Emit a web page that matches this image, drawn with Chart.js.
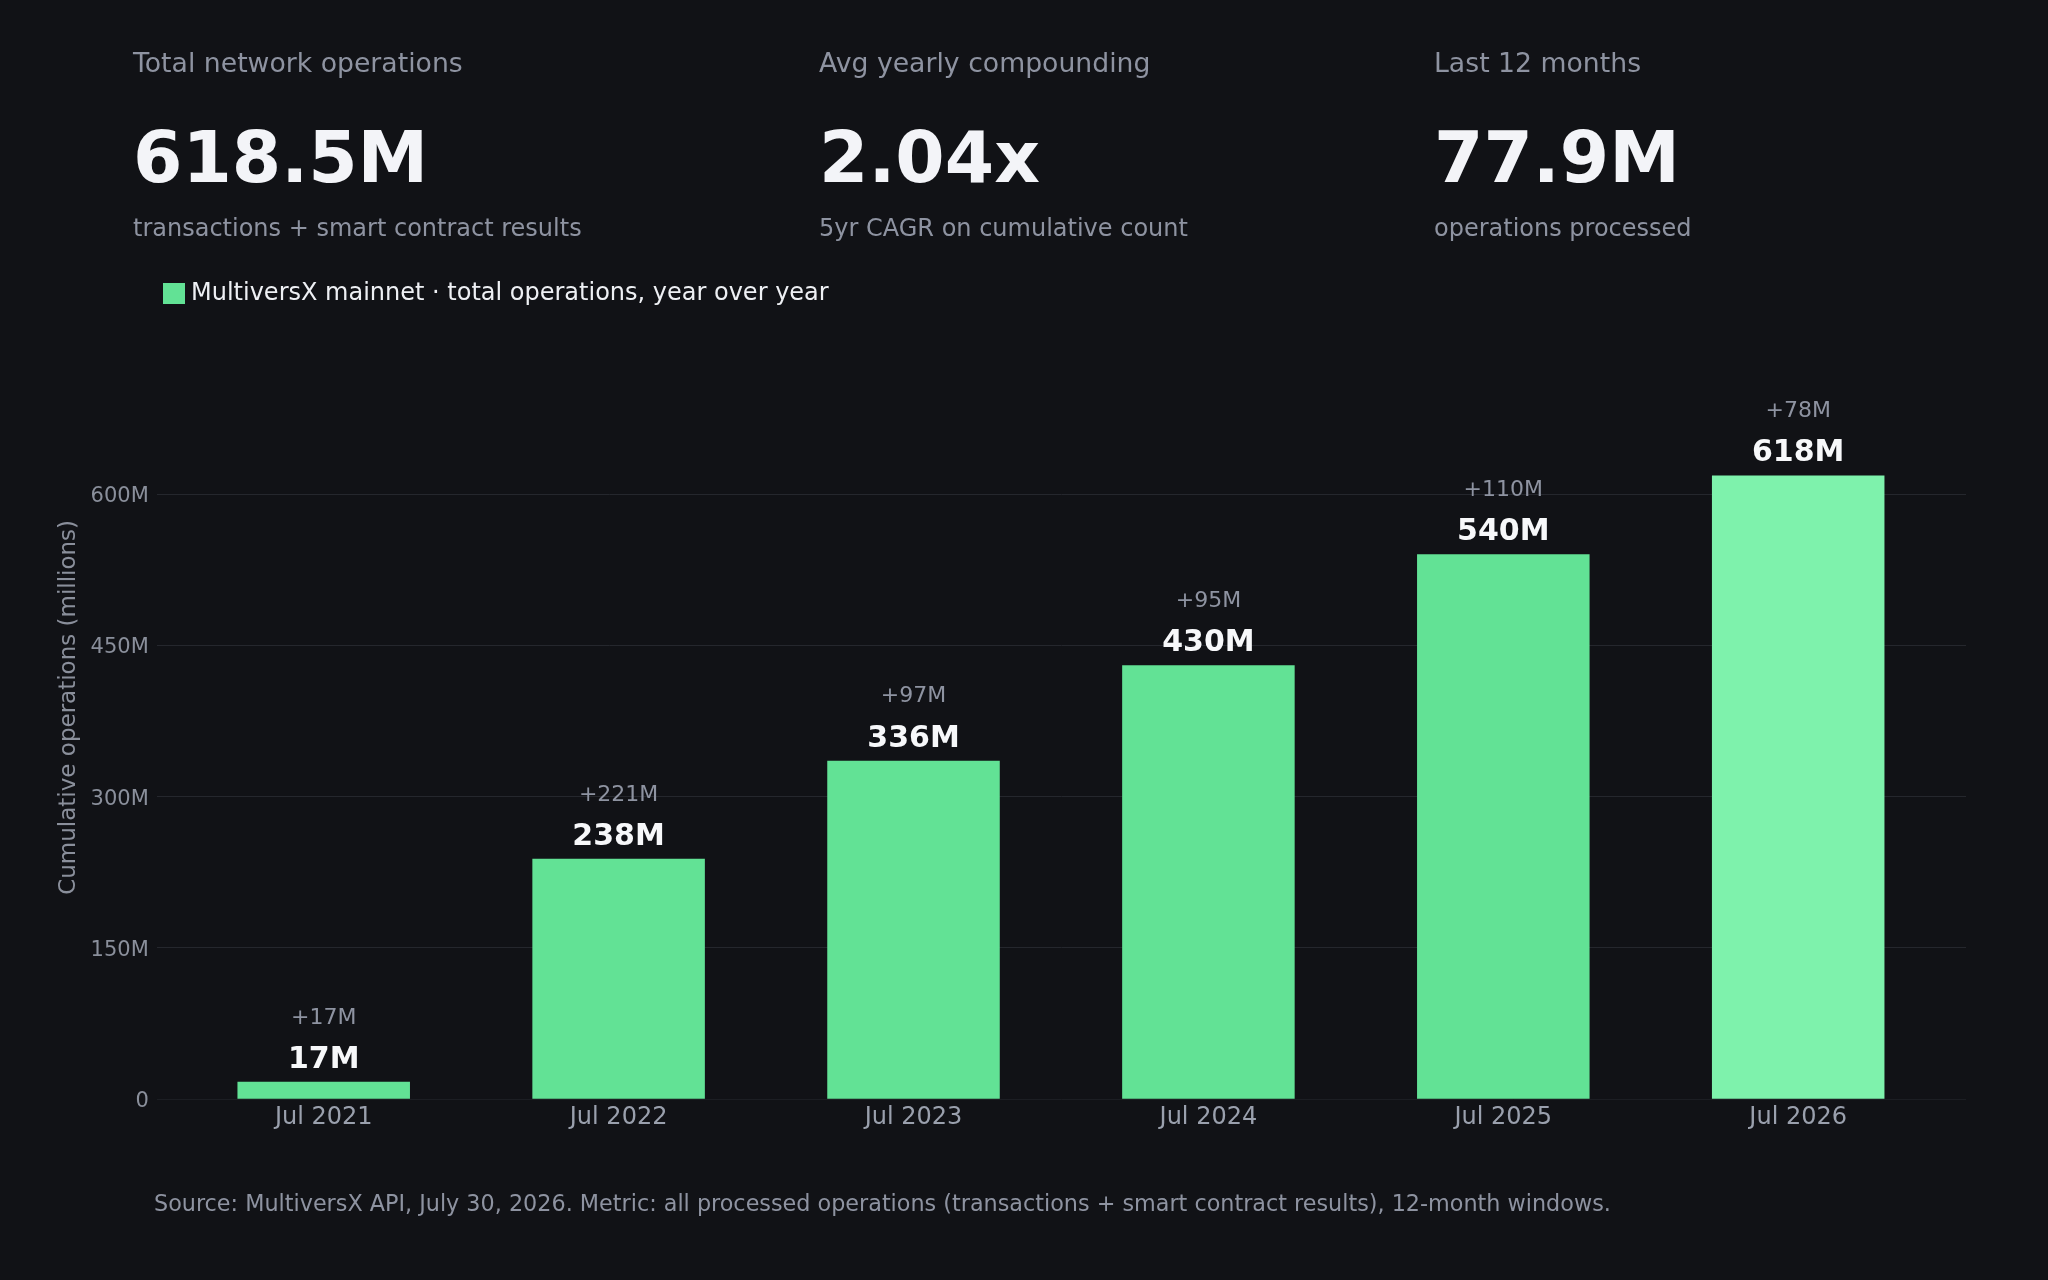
<!DOCTYPE html>
<html>
<head>
<meta charset="utf-8">
<script src="https://cdn.jsdelivr.net/npm/chart.js@4.4.1/dist/chart.umd.min.js"></script>
<style>
  html, body { margin: 0; padding: 0; background: #111216; }
  body { width: 2048px; height: 1280px; position: relative; overflow: hidden; font-family: "DejaVu Sans", sans-serif; }
  #wrap { position: absolute; left: 0; top: 0; width: 2048px; height: 1280px; }
  .stat { position: absolute; }
  .stat .t { position: absolute; left: 0; white-space: nowrap; font-size: 26.7px; line-height: 26px; color: #8e93a1; top: 50px; }
  .stat .v { position: absolute; left: 0; white-space: nowrap; font-size: 71px; line-height: 70px; font-weight: bold; color: #f3f4f8; top: 123px; }
  .stat .s { position: absolute; left: 0; white-space: nowrap; font-size: 24px; line-height: 24px; color: #8e93a1; top: 216px; }
  #note { position: absolute; left: 154px; top: 1192px; font-size: 22.3px; line-height: 22px; color: #8e93a1; white-space: nowrap; }
</style>
</head>
<body>
<div id="wrap"><canvas id="c" width="2048" height="1280"></canvas></div>
<div class="stat" style="left:133px;top:0"><div class="t">Total network operations</div><div class="v">618.5M</div><div class="s">transactions + smart contract results</div></div>
<div class="stat" style="left:819px;top:0"><div class="t">Avg yearly compounding</div><div class="v">2.04x</div><div class="s">5yr CAGR on cumulative count</div></div>
<div class="stat" style="left:1434px;top:0"><div class="t">Last 12 months</div><div class="v">77.9M</div><div class="s">operations processed</div></div>
<div id="note">Source: MultiversX API, July 30, 2026. Metric: all processed operations (transactions + smart contract results), 12-month windows.</div>
<script>
const categories = ["Jul 2021", "Jul 2022", "Jul 2023", "Jul 2024", "Jul 2025", "Jul 2026"];
const cumulativeOps = [17.2, 238.3, 335.6, 430.3, 540.4, 618.4];
const yTicks = [0, 150, 300, 450, 600];
const barColors = ["#62e295", "#62e295", "#62e295", "#62e295", "#62e295", "#7ef2ac"];
const seriesLabel = "MultiversX mainnet \u00b7 total operations, year over year";

const FONT = "'DejaVu Sans', sans-serif";

const barLabels = {
  id: 'barLabels',
  afterDatasetsDraw(chart) {
    const ctx = chart.ctx;
    const meta = chart.getDatasetMeta(0);
    ctx.save();
    ctx.textAlign = 'center';
    ctx.textBaseline = 'middle';
    meta.data.forEach((bar, i) => {
      const v = cumulativeOps[i];
      const prev = i === 0 ? 0 : cumulativeOps[i - 1];
      ctx.font = "bold 30px " + FONT;
      ctx.fillStyle = '#f7f8fa';
      ctx.fillText(Math.round(v) + 'M', bar.x, bar.y - 22);
      ctx.font = "22px " + FONT;
      ctx.fillStyle = '#8e93a1';
      ctx.fillText('+' + Math.round(v - prev) + 'M', bar.x, bar.y - 64);
    });
    ctx.restore();
  }
};

new Chart(document.getElementById('c'), {
  type: 'bar',
  data: {
    datasets: [{
      label: seriesLabel,
      data: cumulativeOps.map((v, i) => ({ x: i, y: v })),
      backgroundColor: barColors,
      borderWidth: 0,
      barPercentage: 0.585,
      categoryPercentage: 1
    }]
  },
  options: {
    responsive: false,
    animation: false,
    devicePixelRatio: 1,
    layout: { padding: { left: 50, right: 82, top: 162.5, bottom: 144 } },
    plugins: {
      tooltip: { enabled: false },
      legend: {
        display: true,
        position: 'top',
        align: 'start',
        labels: {
          boxWidth: 10,
          boxHeight: 9,
          padding: 119,
          color: '#eef0f4',
          font: { family: FONT, size: 24 },
          generateLabels: () => [{ text: seriesLabel, fillStyle: '#62e295', strokeStyle: '#62e295', fontColor: '#eef0f4', lineWidth: 12, lineJoin: 'miter', datasetIndex: 0 }]
        }
      }
    },
    scales: {
      x: {
        type: 'linear',
        min: -0.566,
        max: 5.569,
        offset: false,
        grid: { display: false, drawTicks: false, offset: false },
        border: { display: false },
        afterBuildTicks: (scale) => { scale.ticks = categories.map((c, i) => ({ value: i })); },
        ticks: {
          autoSkip: false,
          maxRotation: 0,
          padding: 4,
          color: '#9aa0ad',
          font: { family: FONT, size: 24 },
          callback: (v) => categories[v]
        }
      },
      y: {
        min: 0,
        max: 777,
        afterBuildTicks: (scale) => { scale.ticks = yTicks.map(v => ({ value: v })); },
        grid: {
          drawTicks: false,
          color: (c) => (c.tick && c.tick.value === 0) ? '#1c1e23' : '#25272d',
          lineWidth: 1
        },
        border: { display: false },
        ticks: {
          padding: 8,
          labelOffset: 2.5,
          color: '#8a8f9b',
          font: { family: FONT, size: 21 },
          callback: (v) => v === 0 ? '0' : v + 'M'
        },
        title: {
          display: true,
          text: 'Cumulative operations (millions)',
          color: '#8a8f9b',
          font: { family: FONT, size: 23 },
          padding: { top: 5, bottom: 0 }
        }
      }
    }
  },
  plugins: [barLabels]
});
</script>
</body>
</html>
